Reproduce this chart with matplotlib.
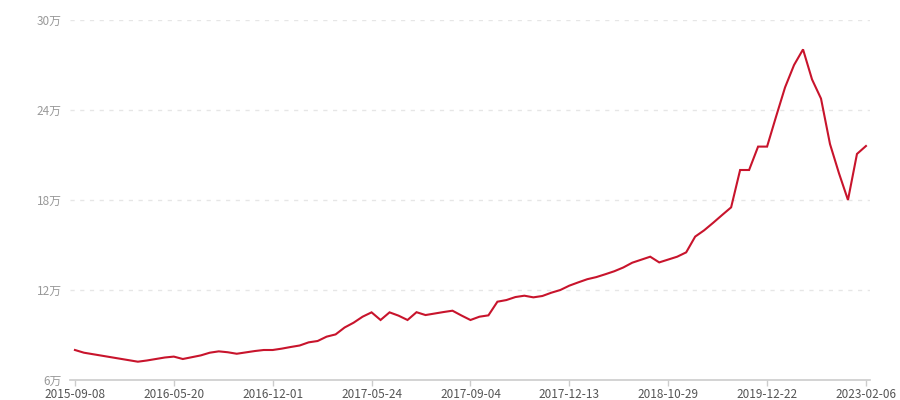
import matplotlib
matplotlib.use("Agg")
import matplotlib.pyplot as plt

# ============================================================
# DATA (values in 万)
# ============================================================

tick_labels = [
    "2015-09-08", "2016-05-20", "2016-12-01", "2017-05-24", "2017-09-04",
    "2017-12-13", "2018-10-29", "2019-12-22", "2023-02-06",
]

values = [
    8.00, 7.82, 7.72, 7.62, 7.52, 7.42, 7.32, 7.22, 7.30, 7.40,
    7.50, 7.56, 7.40, 7.52, 7.64, 7.82, 7.91, 7.85, 7.75, 7.84,
    7.93, 8.00, 8.00, 8.09, 8.20, 8.30, 8.51, 8.60, 8.89, 9.04,
    9.50, 9.82, 10.22, 10.51, 10.00, 10.51, 10.29, 10.00, 10.52, 10.33,
    10.43, 10.53, 10.62, 10.30, 10.00, 10.22, 10.31, 11.22, 11.33, 11.53,
    11.62, 11.51, 11.60, 11.82, 12.00, 12.29, 12.51, 12.72, 12.86, 13.05,
    13.25, 13.50, 13.82, 14.02, 14.22, 13.84, 14.03, 14.22, 14.51, 15.56,
    15.98, 16.48, 17.00, 17.51, 20.00, 20.00, 21.56, 21.56, 23.56, 25.51,
    27.00, 28.04, 26.04, 24.76, 21.73, 19.78, 18.00, 21.07, 21.60,
]

y_ticks = [6, 12, 18, 24, 30]
tick_step = 11

# ============================================================
# PLOT
# ============================================================

plt.rcParams["font.family"] = ["Noto Sans CJK SC", "DejaVu Sans"]

fig = plt.figure(figsize=(9, 4), dpi=100)
ax = fig.add_axes([70 / 900, 20 / 400, 800 / 900, 360 / 400])

x = list(range(len(values)))
ax.plot(x, values, color="#c8142c", linewidth=1.5, solid_joinstyle="miter")

ax.set_xlim(-0.55, len(values) - 1 + 0.45)
ax.set_ylim(6, 30)

ax.set_yticks(y_ticks)
ax.set_yticklabels([f"{v}万" for v in y_ticks])
ax.set_xticks(x[::tick_step])
ax.set_xticklabels(tick_labels)

for v in y_ticks[1:]:
    ax.axhline(v, color="#e6e6e6", linewidth=1, linestyle=(0, (3, 4)), zorder=0)

for side in ["top", "right", "left"]:
    ax.spines[side].set_visible(False)
ax.spines["bottom"].set_color("#cccccc")
ax.spines["bottom"].set_linewidth(1.2)

ax.tick_params(axis="y", length=0, pad=6, labelsize=8.5, labelcolor="#999999")
ax.tick_params(axis="x", length=4, width=1, color="#cccccc", pad=2,
               labelsize=8.5, labelcolor="#555555")

fig.savefig("out.png", dpi=100)
plt.close(fig)
